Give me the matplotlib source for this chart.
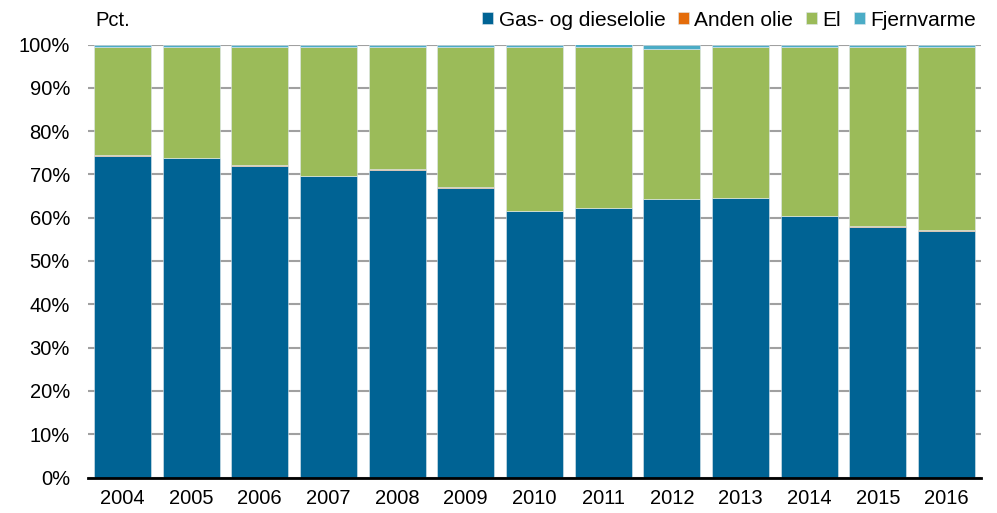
import matplotlib
matplotlib.use("Agg")
import matplotlib.pyplot as plt
import numpy as np

plt.rcParams['font.family'] = ['Liberation Sans', 'DejaVu Sans']

# Data (shares in pct.)
years = ['2004', '2005', '2006', '2007', '2008', '2009', '2010',
         '2011', '2012', '2013', '2014', '2015', '2016']
gas_diesel = [74.3, 73.7, 72.0, 69.6, 71.1, 66.9, 61.5, 62.2, 64.3, 64.5, 60.3, 57.8, 56.9]
anden_olie = [0.1, 0.1, 0.1, 0.1, 0.1, 0.1, 0.1, 0.1, 0.1, 0.1, 0.2, 0.3, 0.3]
fjernvarme = [0.5, 0.5, 0.5, 0.6, 0.5, 0.5, 0.5, 0.6, 1.1, 0.5, 0.5, 0.5, 0.5]
el = [100 - g - a - f for g, a, f in zip(gas_diesel, anden_olie, fjernvarme)]

series = [
    ('Gas- og dieselolie', gas_diesel, '#006394'),
    ('Anden olie', anden_olie, '#E46C0A'),
    ('El', el, '#9BBB59'),
    ('Fjernvarme', fjernvarme, '#4BACC6'),
]

fig = plt.figure(figsize=(9.97, 5.13), dpi=100)
ax = fig.add_axes([88 / 997, 1 - 477.5 / 513, (981 - 88) / 997, (477.5 - 44.5) / 513])

x = np.arange(len(years))
bottom = np.zeros(len(years))
for name, vals, color in series:
    vals = np.array(vals)
    ax.bar(x, vals, 0.83, bottom=bottom, color=color, label=name,
           edgecolor='#dfe8ee', linewidth=0.4, zorder=2)
    bottom += vals

ax.set_xlim(-0.5, 12.5)
ax.set_ylim(0, 100)
ax.set_yticks(np.arange(0, 101, 10))
ax.set_yticklabels([f'{v}%' for v in range(0, 101, 10)])
ax.set_xticks(x)
ax.set_xticklabels(years)
ax.tick_params(axis='both', length=0, labelsize=14.5, colors='black')
ax.tick_params(axis='y', pad=13)
ax.tick_params(axis='x', pad=8)

ax.grid(True, axis='y', color='#A0A0A0', linewidth=1.5, zorder=0)
ax.set_axisbelow(True)
for s in ['top', 'right', 'left']:
    ax.spines[s].set_visible(False)
ax.spines['bottom'].set_linewidth(2)
ax.spines['bottom'].set_color('black')
ax.spines['bottom'].set_zorder(3)

fig.text(95 / 997, 1 - 21 / 513, 'Pct.', fontsize=14.5, va='center', ha='left')

fig.legend(handles=ax.get_legend_handles_labels()[0], loc='center right',
           bbox_to_anchor=(976 / 997, 1 - 20 / 513), ncol=4, frameon=False,
           fontsize=15, handlelength=0.55, handleheight=0.55, handletextpad=0.25,
           columnspacing=0.6, borderaxespad=0, borderpad=0)

fig.savefig('out.png', dpi=100, facecolor='white')
